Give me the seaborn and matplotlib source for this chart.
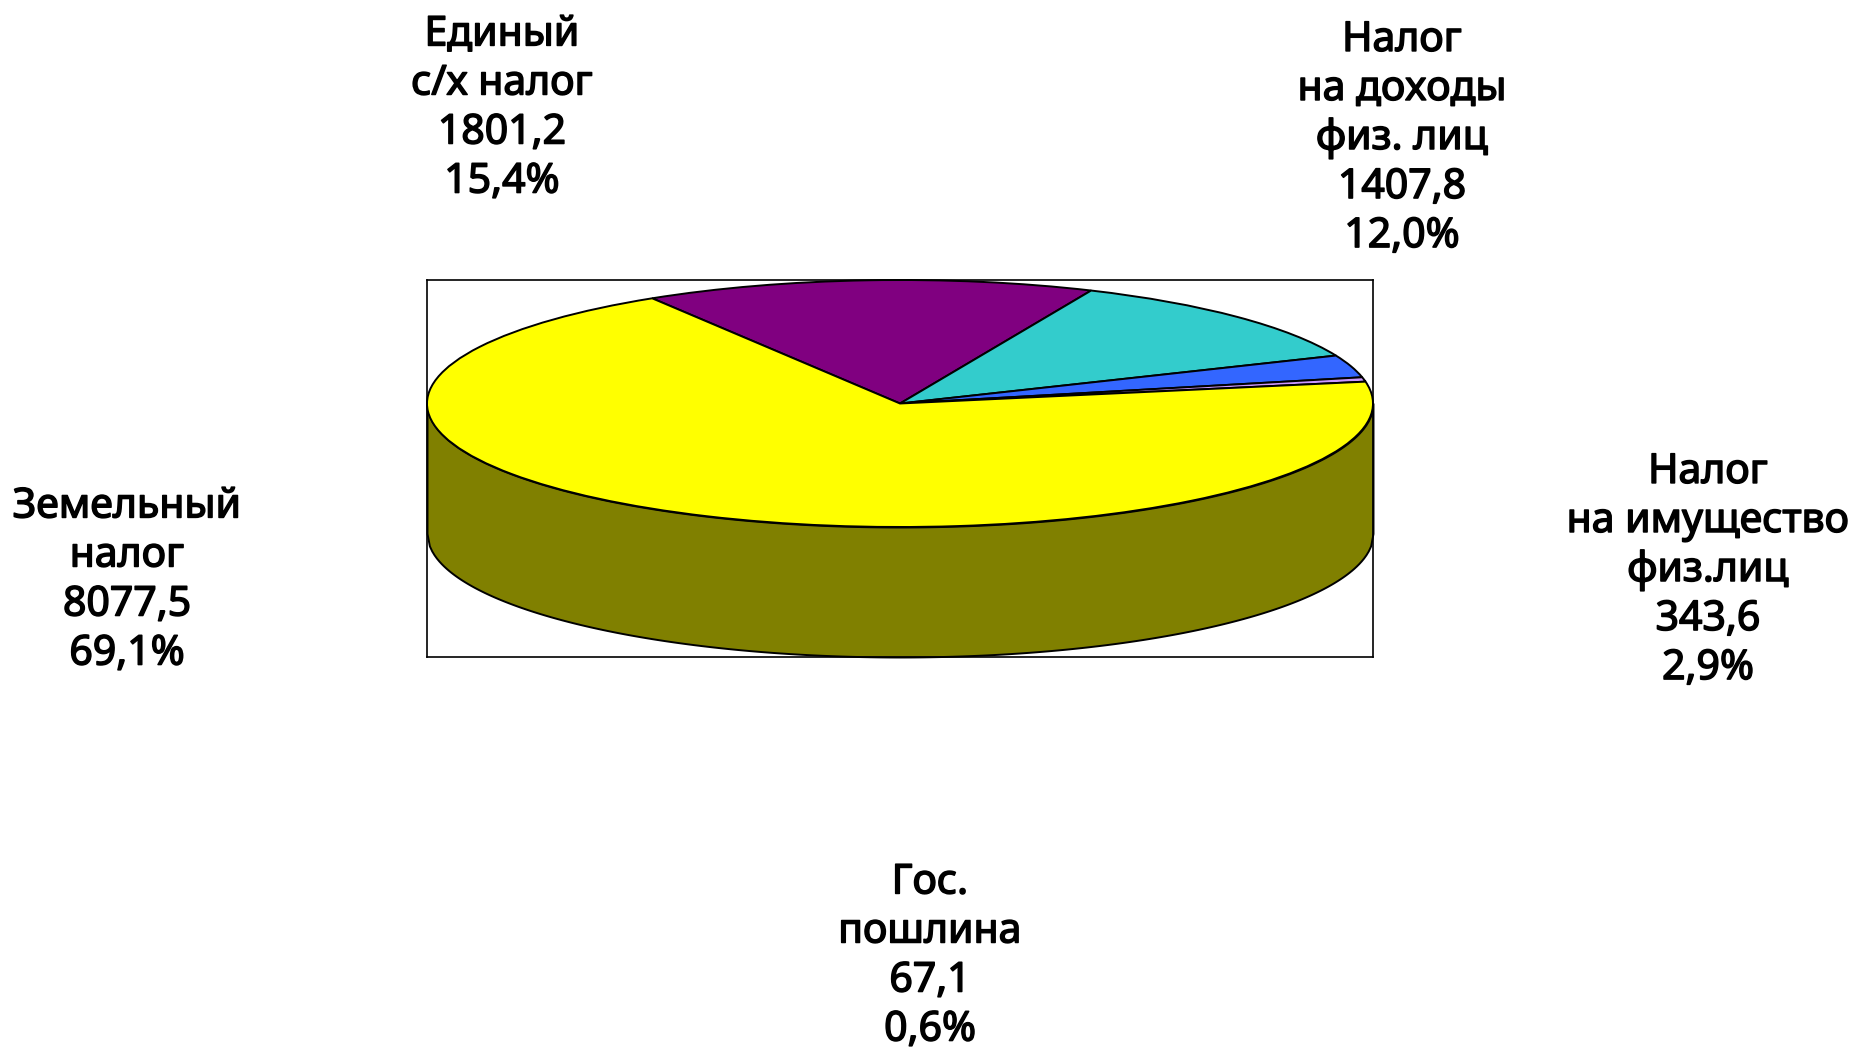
import numpy as np
import seaborn as sns
import matplotlib.pyplot as plt
import matplotlib.patheffects as pe

# tax revenue structure
categories = ["Единый\nс/х налог", "Налог\nна доходы\nфиз. лиц", "Налог\nна имущество\nфиз.лиц",
              "Гос.\nпошлина", "Земельный\nналог"]
values = [1801.2, 1407.8, 343.6, 67.1, 8077.5]
value_labels = ["1801,2", "1407,8", "343,6", "67,1", "8077,5"]
share_labels = ["15,4%", "12,0%", "2,9%", "0,6%", "69,1%"]
colors = ["#800080", "#33CCCC", "#3366FF", "#CC99FF", "#FFFF00"]
side_color = "#808000"

W, H = 1853, 1048
sns.set_theme(style="white")
plt.rcParams['font.family'] = ['Noto Sans', 'DejaVu Sans']

fig = plt.figure(figsize=(W / 100, H / 100), dpi=100, facecolor="white")

# frame of the plot area in pixels
left, right, top, bottom = 427, 1373, 280, 657
ax = fig.add_axes([left / W, 1 - bottom / H, (right - left) / W, (bottom - top) / H])

# top ellipse is 2 units wide and squashed by the axes, depth in same y units
ry_px = 123.5
depth = 130 / ry_px

# side of the cylinder
t = np.linspace(-1, 1, 400)
lower = -np.sqrt(1 - t ** 2)
ax.fill_between(t, lower, lower - depth, facecolor=side_color, edgecolor="black", linewidth=1.4, clip_on=False)

ax.pie(values, colors=colors, startangle=121.6, counterclock=False, radius=1, center=(0, 0),
       wedgeprops={"edgecolor": "black", "linewidth": 1.4, "clip_on": False}, frame=True)

ax.set_aspect("auto")
ax.set_xlim(-1, 1)
ax.set_ylim(-(1 + depth), 1)
ax.set_xticks([])
ax.set_yticks([])
ax.set_frame_on(True)
for s in ax.spines.values():
    s.set_color("black")
    s.set_linewidth(1.2)

# label centres in pixels
label_x = [502, 1402, 1708, 930, 127]
label_y = [108, 138, 570, 956, 580]
for name, val, share, x, y in zip(categories, value_labels, share_labels, label_x, label_y):
    txt = fig.text(x / W, 1 - y / H, name + "\n" + val + "\n" + share, ha="center", va="center",
                   fontsize=29.5, color="black", linespacing=1.22)
    # this family only has a regular weight here, thicken it with a stroke
    txt.set_path_effects([pe.withStroke(linewidth=1.1, foreground="black")])

fig.savefig("out.png", dpi=100, facecolor="white")
